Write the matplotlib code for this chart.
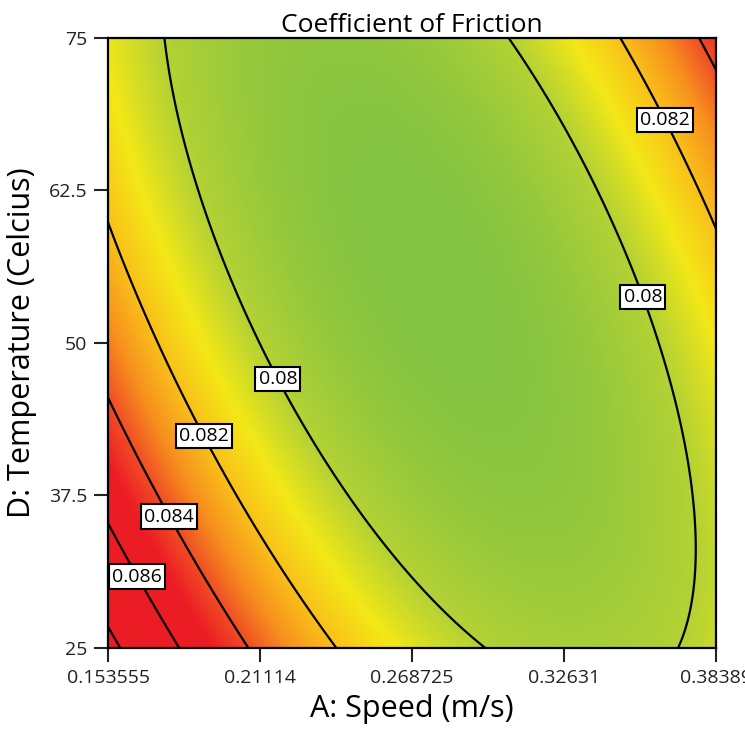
import numpy as np
import matplotlib
matplotlib.use("Agg")
import matplotlib.pyplot as plt
from matplotlib.colors import LinearSegmentedColormap, Normalize

plt.rcParams['font.family'] = ['Open Sans', 'DejaVu Sans']

# Response-surface model (coded factors A, D in [-1, 1])
model_terms = ['Intercept', 'A', 'D', 'AD', 'A^2', 'D^2']
model_coefs = [0.078522, -0.0011257, -0.00085349, 0.0029279, 0.0036308, 0.0013914]

speed_ticks = [0.153555, 0.21114, 0.268725, 0.32631, 0.38389]
speed_tick_labels = ['0.153555', '0.21114', '0.268725', '0.32631', '0.38389']
temp_ticks = [25, 37.5, 50, 62.5, 75]
temp_tick_labels = ['25', '37.5', '50', '62.5', '75']
contour_levels = [0.080, 0.082, 0.084, 0.086, 0.088]

speed_center, speed_half = 0.2687225, 0.1151675
temp_center, temp_half = 50.0, 25.0

xs = np.linspace(speed_ticks[0], speed_ticks[-1], 500)
ys = np.linspace(temp_ticks[0], temp_ticks[-1], 500)
X, Y = np.meshgrid(xs, ys)
a = (X - speed_center) / speed_half
d = (Y - temp_center) / temp_half
b0, b1, b2, b12, b11, b22 = model_coefs
Z = b0 + b1 * a + b2 * d + b12 * a * d + b11 * a * a + b22 * d * d

vmin, vmax = 0.0785, 0.0865
nodes = [(0.0785, '#84c341'), (0.0800, '#b4d234'), (0.0810, '#f3e816'), (0.0820, '#f9c01a'),
         (0.0830, '#f7901e'), (0.0840, '#f04e24'), (0.0850, '#ed1c24'), (0.0865, '#ec1c24')]
cmap = LinearSegmentedColormap.from_list('de', [((v - vmin) / (vmax - vmin), c) for v, c in nodes])

fig = plt.figure(figsize=(7.45, 7.5), dpi=100)
ax = fig.add_axes([108 / 745, 102 / 750, 608 / 745, 610 / 750])
ax.imshow(Z, extent=[xs[0], xs[-1], ys[0], ys[-1]], origin='lower', aspect='auto', cmap=cmap,
          norm=Normalize(vmin, vmax), interpolation='bilinear')
cs = ax.contour(X, Y, Z, levels=contour_levels, colors='black', linewidths=1.6)
label_pos = [(0.218716, 47.13), (0.19144, 42.54), (0.17780, 35.90), (0.16644, 31.07),
             (0.35813, 53.94), (0.36571, 68.44)]
labels = ax.clabel(cs, fmt='%g', inline=False, manual=label_pos, fontsize=14)
for t in labels:
    t.set_rotation(0)
    t.set_bbox(dict(facecolor='white', edgecolor='black', linewidth=1.5, pad=2.2))
ax.set_xlim(speed_ticks[0], speed_ticks[-1])
ax.set_ylim(temp_ticks[0], temp_ticks[-1])
ax.set_xticks(speed_ticks)
ax.set_xticklabels(speed_tick_labels)
ax.set_yticks(temp_ticks)
ax.set_yticklabels(temp_tick_labels)
ax.tick_params(direction='out', length=10, width=1.5, labelsize=14, pad=5, colors='#222222')
for s in ax.spines.values():
    s.set_linewidth(1.6)
ax.set_title('Coefficient of Friction', fontsize=19, pad=1)
ax.set_xlabel('A: Speed (m/s)', fontsize=22, labelpad=5)
ax.set_ylabel('D: Temperature (Celcius)', fontsize=22, labelpad=8)
fig.savefig('out.png', dpi=100)
